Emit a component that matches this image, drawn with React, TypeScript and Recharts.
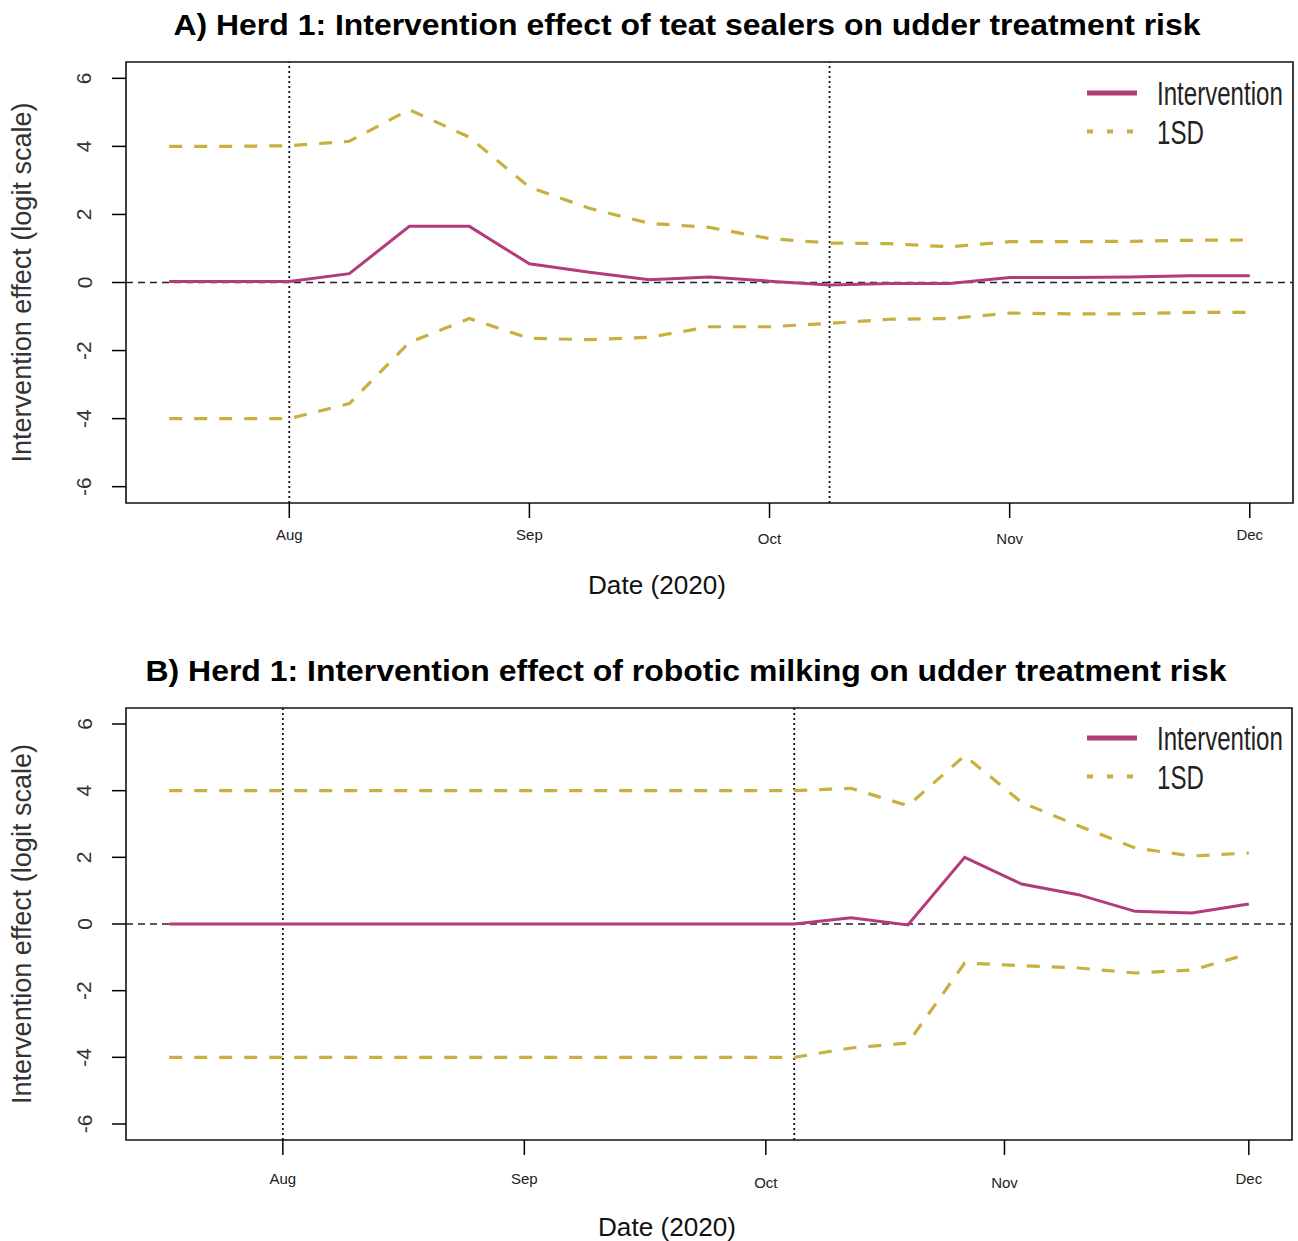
import React from "react"
import {
  LineChart,
  Line,
  XAxis,
  YAxis,
  ReferenceLine,
  ReferenceArea,
  Legend,
} from "recharts"

// weekly estimates, herd 1 (logit scale)
const weeksA = [0, 1, 2, 3, 4, 5, 6, 7, 8, 9, 10, 11, 12, 13, 14, 15, 16, 17, 18]
const interventionA = [0.03, 0.03, 0.03, 0.26, 1.65, 1.65, 0.55, 0.3, 0.08, 0.16, 0.04, -0.07, -0.03, -0.03, 0.15, 0.15, 0.16, 0.2, 0.2]
const upperA = [4.0, 4.0, 4.02, 4.15, 5.08, 4.27, 2.8, 2.18, 1.74, 1.62, 1.29, 1.16, 1.14, 1.05, 1.2, 1.2, 1.21, 1.24, 1.25]
const lowerA = [-4.0, -4.0, -4.0, -3.56, -1.76, -1.06, -1.64, -1.68, -1.61, -1.3, -1.3, -1.2, -1.08, -1.06, -0.9, -0.92, -0.92, -0.88, -0.88]

const weeksB = [0, 1, 2, 3, 4, 5, 6, 7, 8, 9, 10, 11, 12, 13, 14, 15, 16, 17, 18, 19]
const interventionB = [0, 0, 0, 0, 0, 0, 0, 0, 0, 0, 0, 0, 0.19, -0.03, 2.0, 1.2, 0.88, 0.38, 0.33, 0.6]
const upperB = [4, 4, 4, 4, 4, 4, 4, 4, 4, 4, 4, 4, 4.07, 3.55, 5.05, 3.65, 2.95, 2.28, 2.04, 2.13]
const lowerB = [-4, -4, -4, -4, -4, -4, -4, -4, -4, -4, -4, -4, -3.72, -3.57, -1.17, -1.25, -1.32, -1.47, -1.38, -0.9]

const monthLabels = ["Aug", "Sep", "Oct", "Nov", "Dec"]
const monthTicksA = [2, 6, 10, 14, 18]
const monthTicksB = [2, 6.25, 10.5, 14.7, 19]
const yTicks = [-6, -4, -2, 0, 2, 4, 6]
const markersA = [2, 11]
const markersB = [2, 11]
const legendOrder = ["Intervention", "1SD"]

const FONT = '"Liberation Sans", Arial, Helvetica, sans-serif'
const PURPLE = "#b23c7a"
const GOLD = "#c9b03e"
const Y_DOMAIN: [number, number] = [-6.48, 6.48]

function buildRows(weeks: number[], mid: number[], up: number[], low: number[]) {
  return weeks.map((w, i) => ({ week: w, intervention: mid[i], upper: up[i], lower: low[i] }))
}

function RotatedYTick({ x, y, payload }: any) {
  const cx = x - 28
  return (
    <text
      x={cx}
      y={y}
      transform={`rotate(-90 ${cx} ${y})`}
      textAnchor="middle"
      dominantBaseline="central"
      fontFamily={FONT}
      fontSize={21}
      fill="#333"
    >
      {payload.value}
    </text>
  )
}

function makeMonthTick(ticks: number[], drop: number) {
  return function MonthTick({ x, y, payload }: any) {
    const idx = ticks.indexOf(payload.value)
    const label = monthLabels[idx] ?? ""
    // Oct/Nov sit a little lower in the original device output
    const extra = label === "Oct" || label === "Nov" ? 4 : 0
    return (
      <text
        x={x}
        y={y + drop + extra}
        textAnchor="middle"
        dominantBaseline="central"
        fontFamily={FONT}
        fontSize={15}
        fill="#222"
      >
        {label}
      </text>
    )
  }
}

// one entry per name (upper and lower bands share "1SD"), fixed order
function SeriesLegend({ payload }: any) {
  const seen = new Map<string, any>()
  for (const entry of payload || []) {
    if (!seen.has(entry.value)) seen.set(entry.value, entry)
  }
  const entries = legendOrder.filter((n) => seen.has(n)).map((n) => seen.get(n))
  return (
    <svg width={220} height={84} style={{ overflow: "visible" }}>
      {entries.map((entry: any, i: number) => {
        const y = 23 + i * 38.5
        const dotted = entry.value !== "Intervention"
        return (
          <g key={entry.value}>
            <line
              x1={7}
              x2={57}
              y1={y}
              y2={y}
              stroke={entry.color}
              strokeWidth={dotted ? 4 : 5}
              strokeDasharray={dotted ? "6 14" : undefined}
            />
            <g transform={`translate(77 ${y + 12}) scale(0.73 1)`}>
              <text x={0} y={0} fontFamily={FONT} fontSize={33} fill="#222">
                {entry.value}
              </text>
            </g>
          </g>
        )
      })}
    </svg>
  )
}

interface PanelProps {
  title: string
  titleX: number
  titleY: number
  titleWidth: number
  weeks: number[]
  intervention: number[]
  upper: number[]
  lower: number[]
  monthTicks: number[]
  markers: number[]
  xDomain: [number, number]
  height: number
  plotTop: number
  plotBottom: number
  rightGap: number
  tickDrop: number
  xLabelX: number
  xLabelY: number
  legendTop: number
}

function EffectPanel(p: PanelProps) {
  const rows = buildRows(p.weeks, p.intervention, p.upper, p.lower)
  const xAxisHeight = 50
  const plotMid = (p.plotTop + p.plotBottom) / 2
  return (
    <div style={{ position: "relative", width: 1298, height: p.height }}>
      <LineChart
        width={1298}
        height={p.height}
        data={rows}
        margin={{ top: p.plotTop, right: p.rightGap, bottom: p.height - p.plotBottom - xAxisHeight, left: 50 }}
      >
        <XAxis
          dataKey="week"
          type="number"
          domain={p.xDomain}
          ticks={p.monthTicks}
          allowDataOverflow
          height={xAxisHeight}
          axisLine={false}
          tickSize={15}
          tickMargin={0}
          tickLine={{ stroke: "#000", strokeWidth: 1.5 }}
          tick={makeMonthTick(p.monthTicks, p.tickDrop)}
          interval={0}
        />
        <YAxis
          type="number"
          domain={Y_DOMAIN}
          ticks={yTicks}
          allowDataOverflow
          width={76}
          axisLine={false}
          tickSize={14}
          tickMargin={0}
          tickLine={{ stroke: "#000", strokeWidth: 1.5 }}
          tick={<RotatedYTick />}
          interval={0}
        />
        <ReferenceArea
          x1={p.xDomain[0]}
          x2={p.xDomain[1]}
          y1={Y_DOMAIN[0]}
          y2={Y_DOMAIN[1]}
          fill="none"
          stroke="#111"
          strokeWidth={1.6}
        />
        <ReferenceLine y={0} stroke="#222" strokeWidth={1.6} strokeDasharray="7 5" />
        {p.markers.map((m) => (
          <ReferenceLine key={m} x={m} stroke="#111" strokeWidth={1.8} strokeDasharray="2 3" />
        ))}
        <Line
          dataKey="intervention"
          name="Intervention"
          type="linear"
          stroke={PURPLE}
          strokeWidth={3}
          dot={false}
          isAnimationActive={false}
        />
        <Line
          dataKey="upper"
          name="1SD"
          type="linear"
          stroke={GOLD}
          strokeWidth={3.2}
          strokeDasharray="13 12"
          dot={false}
          isAnimationActive={false}
        />
        <Line
          dataKey="lower"
          name="1SD"
          type="linear"
          stroke={GOLD}
          strokeWidth={3.2}
          strokeDasharray="13 12"
          dot={false}
          isAnimationActive={false}
        />
        <Legend
          layout="vertical"
          align="center"
          verticalAlign="middle"
          content={<SeriesLegend />}
          wrapperStyle={{ left: 1080, top: p.legendTop, width: 220, height: 84 }}
        />
      </LineChart>
      <svg
        width={1298}
        height={p.height}
        style={{ position: "absolute", left: 0, top: 0, pointerEvents: "none" }}
      >
        <text
          x={p.titleX}
          y={p.titleY}
          textAnchor="middle"
          dominantBaseline="central"
          fontFamily={FONT}
          fontWeight="bold"
          fontSize={29}
          textLength={p.titleWidth}
          lengthAdjust="spacingAndGlyphs"
          fill="#000"
        >
          {p.title}
        </text>
        <text
          x={22}
          y={plotMid}
          transform={`rotate(-90 22 ${plotMid})`}
          textAnchor="middle"
          dominantBaseline="central"
          fontFamily={FONT}
          fontSize={27}
          textLength={360}
          lengthAdjust="spacingAndGlyphs"
          fill="#333"
        >
          Intervention effect (logit scale)
        </text>
        <text
          x={p.xLabelX}
          y={p.xLabelY}
          textAnchor="middle"
          dominantBaseline="central"
          fontFamily={FONT}
          fontSize={26}
          textLength={138}
          lengthAdjust="spacingAndGlyphs"
          fill="#111"
        >
          Date (2020)
        </text>
      </svg>
    </div>
  )
}

export default function App() {
  return (
    <div style={{ width: 1298, height: 1241, background: "#fff" }}>
      <style>{"body { margin: 0; background: #fff; }"}</style>
      <EffectPanel
        title="A) Herd 1: Intervention effect of teat sealers on udder treatment risk"
        titleX={687}
        titleY={25}
        titleWidth={1027}
        weeks={weeksA}
        intervention={interventionA}
        upper={upperA}
        lower={lowerA}
        monthTicks={monthTicksA}
        markers={markersA}
        xDomain={[-0.72, 18.72]}
        height={620}
        plotTop={62}
        plotBottom={503}
        rightGap={5}
        tickDrop={16}
        xLabelX={657}
        xLabelY={585}
        legendTop={70}
      />
      <EffectPanel
        title="B) Herd 1: Intervention effect of robotic milking on udder treatment risk"
        titleX={686}
        titleY={51}
        titleWidth={1081}
        weeks={weeksB}
        intervention={interventionB}
        upper={upperB}
        lower={lowerB}
        monthTicks={monthTicksB}
        markers={markersB}
        xDomain={[-0.76, 19.76]}
        height={621}
        plotTop={88}
        plotBottom={520}
        rightGap={6}
        tickDrop={23}
        xLabelX={667}
        xLabelY={607}
        legendTop={95}
      />
    </div>
  )
}
